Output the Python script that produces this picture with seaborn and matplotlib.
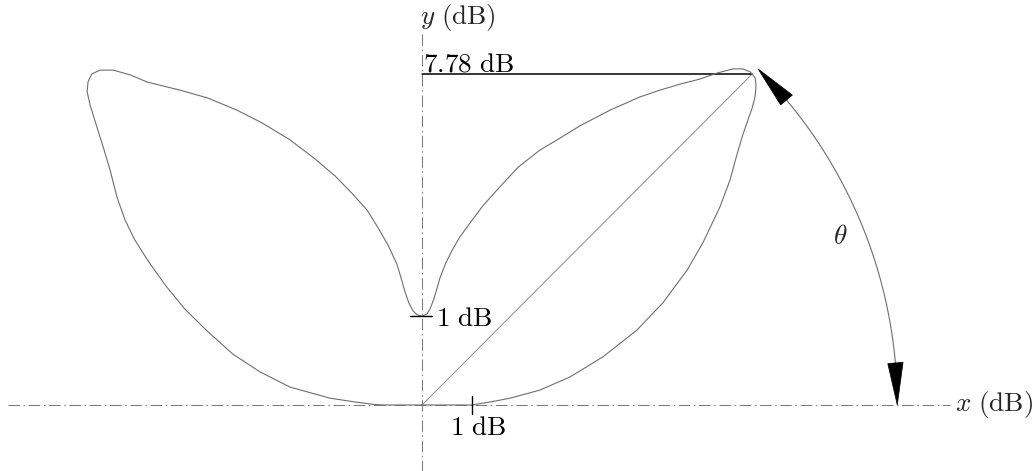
import numpy as np
import pandas as pd
import matplotlib
matplotlib.use("Agg")
import matplotlib.pyplot as plt
from matplotlib.patches import Polygon
import seaborn as sns

# Radiation-pattern outline (x, y in dB), traced counter-clockwise from the origin
outline_x = [0.00, 1.17, 1.60, 2.07, 2.77, 3.48, 4.25, 5.05, 5.66, 6.23, 6.60, 7.00,
             7.24, 7.40, 7.54, 7.66, 7.76, 7.83, 7.85, 7.83, 7.71, 7.54, 7.31, 6.93,
             6.53, 6.06, 5.59, 5.12, 4.42, 3.71, 3.24, 2.77, 2.26, 1.76, 1.43, 1.13,
             0.89, 0.71, 0.56, 0.42, 0.33, 0.26, 0.19, 0.12, 0.00, -0.12, -0.21, -0.31,
             -0.40, -0.49, -0.59, -0.80, -1.03, -1.29, -1.65, -2.04, -2.51, -3.10, -3.76,
             -4.35, -5.05, -5.69, -6.46, -6.86, -7.26, -7.57, -7.76, -7.85, -7.87, -7.80,
             -7.64, -7.47, -7.33, -7.17, -6.98, -6.75, -6.42, -6.02, -5.57, -5.05, -4.45,
             -3.81, -3.10, -2.16, -1.57, -1.10, -0.87, 0.00]
outline_y = [0.00, 0.00, 0.07, 0.16, 0.35, 0.66, 1.13, 1.76, 2.40, 3.17, 3.81, 4.65,
             5.29, 5.88, 6.35, 6.70, 6.98, 7.26, 7.50, 7.69, 7.83, 7.90, 7.90, 7.80,
             7.66, 7.54, 7.40, 7.24, 6.93, 6.56, 6.27, 5.99, 5.59, 5.05, 4.68, 4.28,
             3.95, 3.64, 3.34, 2.98, 2.66, 2.44, 2.26, 2.14, 2.09, 2.12, 2.21, 2.40,
             2.66, 2.98, 3.31, 3.76, 4.16, 4.58, 4.98, 5.38, 5.78, 6.23, 6.63,
             6.93, 7.22, 7.40, 7.59, 7.76, 7.87, 7.87, 7.78, 7.59, 7.36, 7.05,
             6.53, 5.99, 5.52, 4.89, 4.35, 3.88, 3.36, 2.80, 2.25, 1.74, 1.20,
             0.78, 0.42, 0.16, 0.07, 0.01, 0.00, 0.00]

# Main-lobe peak and annotation values
peak_x, peak_y = 7.76, 7.78
peak_label = "7.78 dB"
x_tick_pos, x_tick_label = 1.17, "1 dB"
y_tick_pos, y_tick_label = 2.09, "1 dB"
arc_radius = 11.17
arc_start_deg, arc_end_deg = 0.0, 45.0

sns.set_theme(style="white")
plt.rcParams["mathtext.fontset"] = "cm"
plt.rcParams["font.family"] = ["DejaVu Serif"]

fig = plt.figure(figsize=(10.34, 4.71), dpi=100)
ax = fig.add_axes([0, 0, 1, 1])
ax.set_xlim(-9.918, 14.383)
ax.set_ylim(-1.551, 9.518)
ax.set_aspect("equal")
ax.axis("off")

axis_color = "#7a7a7a"
dashdot = (0, (11, 3.5, 1.5, 3.5))
fs = 19.5

# Dash-dot coordinate axes
ax.plot([-9.73, 12.41], [0, 0], color=axis_color, lw=0.75, ls=dashdot, zorder=1)
ax.plot([0, 0], [-1.6, 8.74], color=axis_color, lw=0.75, ls=dashdot, zorder=1)

# Pattern outline
df = pd.DataFrame({"x": outline_x, "y": outline_y})
sns.lineplot(data=df, x="x", y="y", sort=False, estimator=None, color="#6e6e6e",
             lw=0.8, ax=ax, zorder=3)
for ln in ax.lines[-1:]:
    ln.set_solid_joinstyle("round")

# Line from origin to the main-lobe peak and the peak level marker
ax.plot([0, peak_x], [0, peak_y], color="#8c8c8c", lw=0.7, zorder=2)
ax.plot([0, peak_x], [peak_y, peak_y], color="black", lw=1.1, zorder=2)
ax.text(0.02, peak_y + 0.06, r"$\mathrm{7.78\ dB}$", fontsize=fs, ha="left",
        va="baseline", color="black")

# Scale ticks
ax.plot([x_tick_pos, x_tick_pos], [-0.2, 0.2], color="black", lw=1.0, zorder=4)
ax.text(x_tick_pos + 0.15, -0.22, r"$\mathrm{1\ dB}$", fontsize=fs, ha="center",
        va="top", color="black")
ax.plot([-0.28, 0.24], [y_tick_pos, y_tick_pos], color="black", lw=1.0, zorder=4)
ax.text(0.32, y_tick_pos - 0.06, r"$\mathrm{1\ dB}$", fontsize=fs, ha="left",
        va="center", color="black")

# Axis labels
ax.text(12.52, 0.0, r"$x\ \mathrm{(dB)}$", fontsize=fs, ha="left", va="center")
ax.text(0.85, 9.1, r"$y\ \mathrm{(dB)}$", fontsize=fs, ha="center", va="center")

# Angle arc with arrowheads at both ends
head_len = 0.99
head_half = 0.18
head_span = np.degrees(head_len / arc_radius)
t = np.radians(np.linspace(arc_start_deg + head_span, arc_end_deg - head_span, 200))
ax.plot(arc_radius * np.cos(t), arc_radius * np.sin(t), color="#6e6e6e", lw=0.8)

def arrow_head(tip_deg, base_deg):
    tip = np.radians(tip_deg)
    base = np.radians(base_deg)
    pts = [(arc_radius * np.cos(tip), arc_radius * np.sin(tip)),
           ((arc_radius + head_half) * np.cos(base), (arc_radius + head_half) * np.sin(base)),
           ((arc_radius - head_half) * np.cos(base), (arc_radius - head_half) * np.sin(base))]
    ax.add_patch(Polygon(pts, closed=True, facecolor="black", edgecolor="black",
                         lw=0.5, zorder=5))

arrow_head(arc_start_deg, arc_start_deg + head_span)
arrow_head(arc_end_deg, arc_end_deg - head_span)

ax.text(9.82, 3.97, r"$\theta$", fontsize=fs, ha="center", va="center")

fig.savefig("out.png", dpi=100)
